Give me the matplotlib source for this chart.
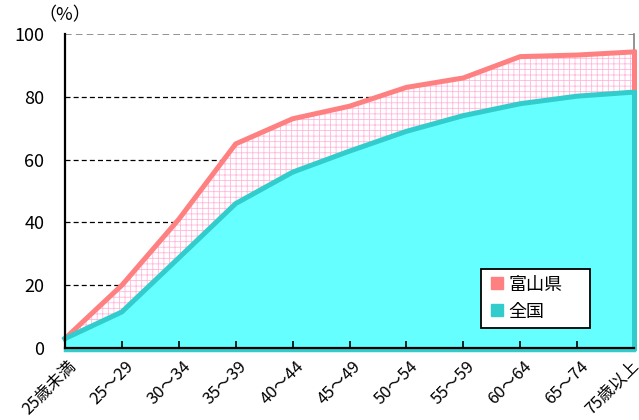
import numpy as np
import matplotlib as mpl
mpl.use('Agg')
import matplotlib.pyplot as plt
from matplotlib.lines import Line2D

plt.rcParams['font.family'] = ['Noto Sans CJK JP', 'DejaVu Sans']
plt.rcParams['hatch.linewidth'] = 0.6

categories = ['25歳未満', '25～29', '30～34', '35～39', '40～44', '45～49',
              '50～54', '55～59', '60～64', '65～74', '75歳以上']
toyama   = [3.0, 20.0, 41.0, 65.0, 73.0, 77.0, 83.0, 86.0, 92.8, 93.3, 94.3]
national = [3.0, 11.5, 28.7, 46.0, 56.0, 62.7, 69.0, 74.0, 77.8, 80.2, 81.5]
yticks   = [0, 20, 40, 60, 80, 100]

cyan_fill = '#66FFFF'
cyan_line = '#33CCCC'
pink_line = '#FF8080'
hatch_col = '#FFB8DC'

fig = plt.figure(figsize=(6.39, 4.2), dpi=100)
ax = fig.add_axes([65/639, 1-348/420, (634-65)/639, (348-34)/420])

x = np.arange(len(categories))

#grid lines (under the fills)
for v in yticks[1:-1]:
    ax.axhline(v, color='k', lw=0.9, ls=(0, (4, 2.5)), zorder=0)
ax.axhline(100, color='#808080', lw=1.2, ls=(0, (4, 2.5)), zorder=0)
ax.plot([x[-1], x[-1]], [toyama[-1], 100], color='#808080', lw=1.2, zorder=0, clip_on=False)

#fills
ax.fill_between(x, 0, national, facecolor=cyan_fill, edgecolor='none', zorder=1)
ax.fill_between(x, national, toyama, facecolor='white', edgecolor=hatch_col,
                hatch='+++', lw=0, zorder=1)

#lines
ax.plot(x, toyama, '-', color=pink_line, lw=3.6, zorder=3, solid_joinstyle='miter', clip_on=False)
ax.plot(x, national, '-', color=cyan_line, lw=3.6, zorder=3, solid_joinstyle='miter', clip_on=False)
ax.plot([x[-1], x[-1]], [national[-1], toyama[-1]], color=pink_line, lw=3.6, zorder=3, clip_on=False)
ax.plot([x[-1], x[-1]], [0, national[-1]], color=cyan_line, lw=3.6, zorder=3, clip_on=False)
ax.plot([x[0], x[-1]], [0, 0], color=cyan_line, lw=2.5, zorder=2, clip_on=False,
        transform=ax.get_xaxis_transform() + mpl.transforms.ScaledTranslation(0, -2/100, fig.dpi_scale_trans))

ax.set_xlim(x[0], x[-1])
ax.set_ylim(0, 100)

for s in ['top', 'right']:
    ax.spines[s].set_visible(False)
ax.spines['left'].set_linewidth(1.6)
ax.spines['bottom'].set_linewidth(1.6)
ax.spines['left'].set_zorder(4)
ax.spines['bottom'].set_zorder(4)

ax.set_yticks(yticks)
ax.set_yticklabels([str(v) for v in yticks], fontsize=13)
ax.tick_params(axis='y', length=0, pad=15)
ax.set_xticks(x)
ax.set_xticklabels(categories, rotation=45, ha='right', va='top',
                   rotation_mode='anchor', fontsize=12)
ax.tick_params(axis='x', direction='in', length=5, width=1.2, pad=7)
xlabels = ax.get_xticklabels()
for i, lbl in enumerate(xlabels):
    dx = 3 if i < len(xlabels) - 1 else -4
    lbl.set_transform(lbl.get_transform() +
                      mpl.transforms.ScaledTranslation(dx/100, 0, fig.dpi_scale_trans))

ax.text(0.0, 1.03, '（%）', transform=ax.transAxes, ha='center', va='bottom', fontsize=13)

#legend
handles = [Line2D([], [], marker='s', ls='none', markersize=9, markerfacecolor=pink_line,
                  markeredgecolor=pink_line),
           Line2D([], [], marker='s', ls='none', markersize=9, markerfacecolor=cyan_line,
                  markeredgecolor=cyan_line)]
leg = ax.legend(handles, ['富山県', '全国'], loc='lower left',
                bbox_to_anchor=((481-65)/569, (348-328)/314, (590-481)/569, (328-266)/314),
                mode='expand', fontsize=13, frameon=True, fancybox=False, framealpha=1,
                handletextpad=0.1, borderpad=0.4, labelspacing=0.5, handlelength=1.0,
                borderaxespad=0)
leg.get_frame().set_edgecolor('k')
leg.get_frame().set_facecolor('white')
leg.get_frame().set_linewidth(1.3)
leg.set_zorder(5)

fig.savefig('out.png', dpi=100)
